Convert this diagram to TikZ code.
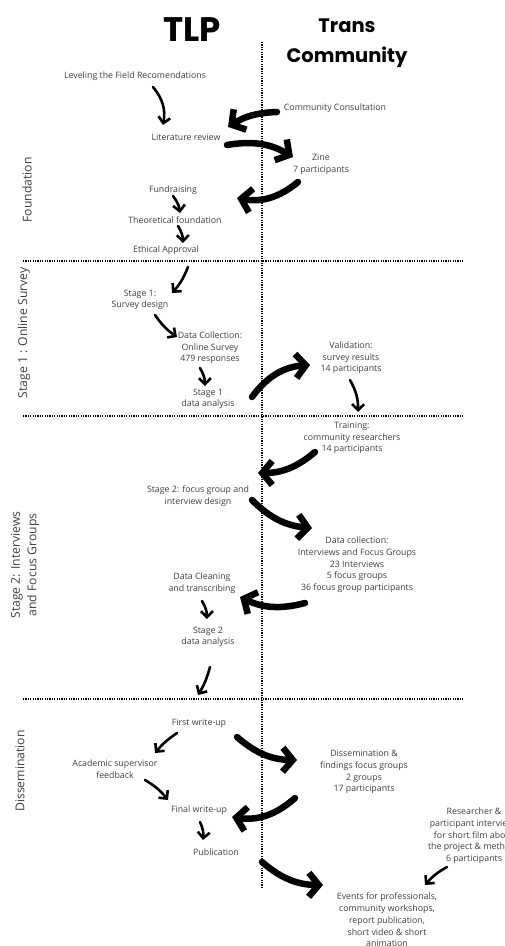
\documentclass[tikz,border=0pt]{standalone}
\usepackage{fontspec}
\setmainfont{Open Sans}
\newfontfamily\headfont{Poppins}
\usetikzlibrary{arrows.meta,calc}
\definecolor{txtgray}{HTML}{3F3F3F}

\begin{document}
\begin{tikzpicture}[x=1pt,y=-1pt,
    lbl/.style={font=\fontsize{8.8}{11.7}\selectfont,text=txtgray,align=center,inner sep=0pt},
    stagelbl/.style={font=\fontsize{12.2}{16.5}\selectfont,text=txtgray,align=center,rotate=90,inner sep=0pt},
    headlbl/.style={font=\headfont\bfseries,align=center,inner sep=0pt},
    divider/.style={line width=1.3pt,dash pattern=on 1.2pt off 1.2pt},
    smallarrow/.style={line width=2.6pt,line cap=round,-{Straight Barb[length=6pt,width=12pt]}},
    bigarrow/.style={line width=6.5pt,line cap=round,-{Straight Barb[length=10pt,width=24pt]}}]
        \useasboundingbox (0,0) rectangle (504,946);
        \clip (0,0) rectangle (504,946);

        % column heads and dividers
        \node[headlbl,font=\headfont\bfseries\fontsize{34}{36}\selectfont] (tlp) at (192,30) {TLP};
        \node[headlbl,font=\headfont\bfseries\fontsize{19.5}{30}\selectfont] (trans) at (347,43) {Trans\\Community};
        \draw[divider] (262,42) -- (262,887);
        \draw[divider] (23,261) -- (463,261);
        \draw[divider] (23,416) -- (463,416);
        \draw[divider] (23,699) -- (463,699);

        % stage labels
        \node[stagelbl] (foundation) at (27,190) {Foundation};
        \node[stagelbl] (stageone) at (24,333) {Stage 1 : Online Survey};
        \node[stagelbl] (stagetwo) at (25,565) {Stage 2: Interviews\\and Focus Groups};
        \node[stagelbl] (dissem) at (20,771) {Dissemination};

        % TLP column
        \node[lbl] (lev) at (135,76) {Leveling the Field Recomendations};
        \node[lbl] (lit) at (186,137) {Literature review};
        \node[lbl] (fund) at (173,190) {Fundraising};
        \node[lbl] (theo) at (175,220) {Theoretical foundation};
        \node[lbl] (eth) at (166,250) {Ethical Approval};
        \node[lbl] (sonedesign) at (140,300) {Stage 1:\\Survey design};
        \node[lbl] (dcoll) at (210,348) {Data Collection:\\Online Survey\\479 responses};
        \node[lbl] (sonean) at (208,399) {Stage 1\\data analysis};
        \node[lbl] (stwodesign) at (198,496) {Stage 2: focus group and\\interview design};
        \node[lbl] (clean) at (202,583) {Data Cleaning\\and transcribing};
        \node[lbl] (stwoan) at (208,637) {Stage 2\\data analysis};
        \node[lbl] (first) at (199,723) {First write-up};
        \node[lbl] (acad) at (115,769) {Academic supervisor\\feedback};
        \node[lbl] (final) at (199,810) {Final write-up};
        \node[lbl] (pub) at (216,852) {Publication};

        % community column
        \node[lbl] (cons) at (335,108) {Community Consultation};
        \node[lbl] (zine) at (321,164) {Zine\\7 participants};
        \node[lbl] (valid) at (351,358) {Validation:\\survey results\\14 participants};
        \node[lbl] (train) at (352,438) {Training:\\community researchers\\14 participants};
        \node[lbl] (dcolltwo) at (357,565) {Data collection:\\Interviews and Focus Groups\\23 Interviews\\5 focus groups\\36 focus group participants};
        \node[lbl] (diss) at (364,772) {Dissemination \&\\findings focus groups\\2 groups\\17 participants};
        \node[lbl] (res) at (474,836) {Researcher \&\\participant interviews\\for short film about\\the project \& methods\\6 participants};
        \node[lbl] (events) at (387,920) {Events for professionals,\\community workshops,\\report publication,\\short video \& short\\animation};

        % small arrows
        \draw[smallarrow] ($(lev.center)+(18,11)$) to[bend left=25] ($(lit.center)+(-23,-12)$);
        \draw[smallarrow] ($(fund.center)+(0,6)$) to[bend left=15] ($(theo.center)+(5,-7)$);
        \draw[smallarrow] ($(theo.center)+(3,6)$) to[bend left=15] ($(eth.center)+(17,-7)$);
        \draw[smallarrow] ($(eth.center)+(22,17)$) to[bend left=10] ($(sonedesign.center)+(32,-7)$);
        \draw[smallarrow] ($(sonedesign.center)+(15,15)$) to[bend right=10] ($(dcoll.center)+(-33,-11)$);
        \draw[smallarrow] ($(dcoll.center)+(-10,20)$) to[bend left=15] ($(sonean.center)+(-3,-13)$);
        \draw[smallarrow] ($(valid.center)+(-1,22)$) to[bend left=15] ($(train.center)+(6,-26)$);
        \draw[smallarrow] ($(clean.center)+(0,18)$) to[bend left=15] ($(stwoan.center)+(-1,-18)$);
        \draw[smallarrow] ($(stwoan.center)+(2,30)$) to[bend left=8] ($(first.center)+(-1,-28)$);
        \draw[smallarrow] ($(first.center)+(-22,10)$) to[bend right=8] ($(acad.center)+(40,-16)$);
        \draw[smallarrow] ($(acad.center)+(30,11)$) to[bend left=10] ($(final.center)+(-31,-10)$);
        \draw[smallarrow] ($(final.center)+(1,12)$) to[bend left=15] ($(pub.center)+(-13,-12)$);
        \draw[smallarrow] ($(res.center)+(-27,31)$) to[bend right=10] ($(events.center)+(38,-35)$);

        % big arrows across the divide
        \draw[bigarrow] ($(cons.center)+(-58,4)$) to[bend right=15] ($(lit.center)+(42,-10)$);
        \draw[bigarrow] ($(lit.center)+(41,8)$) to[bend left=20] ($(zine.center)+(-28,-7)$);
        \draw[bigarrow] ($(zine.center)+(-23,18)$) to[bend left=25] ($(fund.center)+(64,8)$);
        \draw[bigarrow] ($(sonean.center)+(44,-2)$) to[bend left=25] ($(valid.center)+(-41,7)$);
        \draw[bigarrow] ($(train.center)+(-37,14)$) to[bend left=20] ($(stwodesign.center)+(60,-23)$);
        \draw[bigarrow] ($(stwodesign.center)+(54,4)$) to[bend right=20] ($(dcolltwo.center)+(-45,-37)$);
        \draw[bigarrow] ($(dcolltwo.center)+(-52,38)$) to[bend left=20] ($(clean.center)+(38,14)$);
        \draw[bigarrow] ($(first.center)+(38,14)$) to[bend right=20] ($(diss.center)+(-67,-12)$);
        \draw[bigarrow] ($(diss.center)+(-69,26)$) to[bend left=25] ($(final.center)+(33,7)$);
        \draw[bigarrow] ($(pub.center)+(46,10)$) to[bend right=20] ($(events.center)+(-64,-35)$);

      \end{tikzpicture}
\end{document}
